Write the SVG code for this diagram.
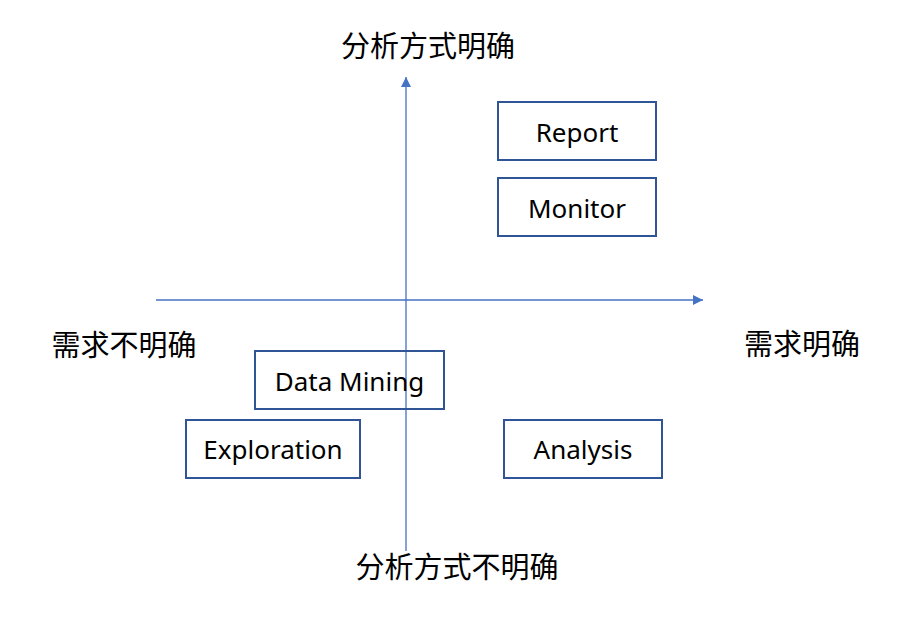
<svg xmlns="http://www.w3.org/2000/svg" width="916" height="626" viewBox="0 0 916 626">
<defs>
<style>
.box{fill:#fff;stroke:#2F5597;stroke-width:2}
.axis{stroke:#4472C4;stroke-width:1.3;fill:none}
.lbl{font-family:"Noto Sans","Noto Sans CJK SC",sans-serif;font-size:26px;fill:#000;text-anchor:middle;dominant-baseline:central}
.cn{font-family:"Noto Sans CJK SC",sans-serif;font-size:29px;fill:#000;text-anchor:middle;dominant-baseline:central}
</style>
<marker id="arr" viewBox="0 0 10 10" refX="10" refY="5" markerWidth="10" markerHeight="10" markerUnits="userSpaceOnUse" orient="auto">
<path d="M0,0 L10,5 L0,10 Z" fill="#4472C4"/>
</marker>
</defs>
<rect width="916" height="626" fill="#fff"/>
<g id="report"><rect class="box" x="498" y="102" width="158" height="58"/><text class="lbl" x="577" y="132">Report</text></g>
<g id="monitor"><rect class="box" x="498" y="178" width="158" height="58"/><text class="lbl" x="577" y="208">Monitor</text></g>
<g id="exploration"><rect class="box" x="186" y="420" width="174" height="58"/><text class="lbl" x="273" y="449">Exploration</text></g>
<g id="analysis"><rect class="box" x="504" y="420" width="158" height="58"/><text class="lbl" x="583" y="449">Analysis</text></g>
<g id="connectors">
<line class="axis" x1="406" y1="551" x2="406" y2="77" marker-end="url(#arr)"/>
<line class="axis" x1="156" y1="300" x2="703" y2="300" marker-end="url(#arr)"/>
</g>
<g id="datamining"><rect class="box" x="255" y="351" width="189" height="58" style="fill:none"/><text class="lbl" x="349.5" y="381">Data Mining</text></g>
<g id="labels">
<text class="cn" x="428" y="44">分析方式明确</text>
<text class="cn" x="457" y="565">分析方式不明确</text>
<text class="cn" x="124" y="343">需求不明确</text>
<text class="cn" x="802" y="342">需求明确</text>
</g>
</svg>
